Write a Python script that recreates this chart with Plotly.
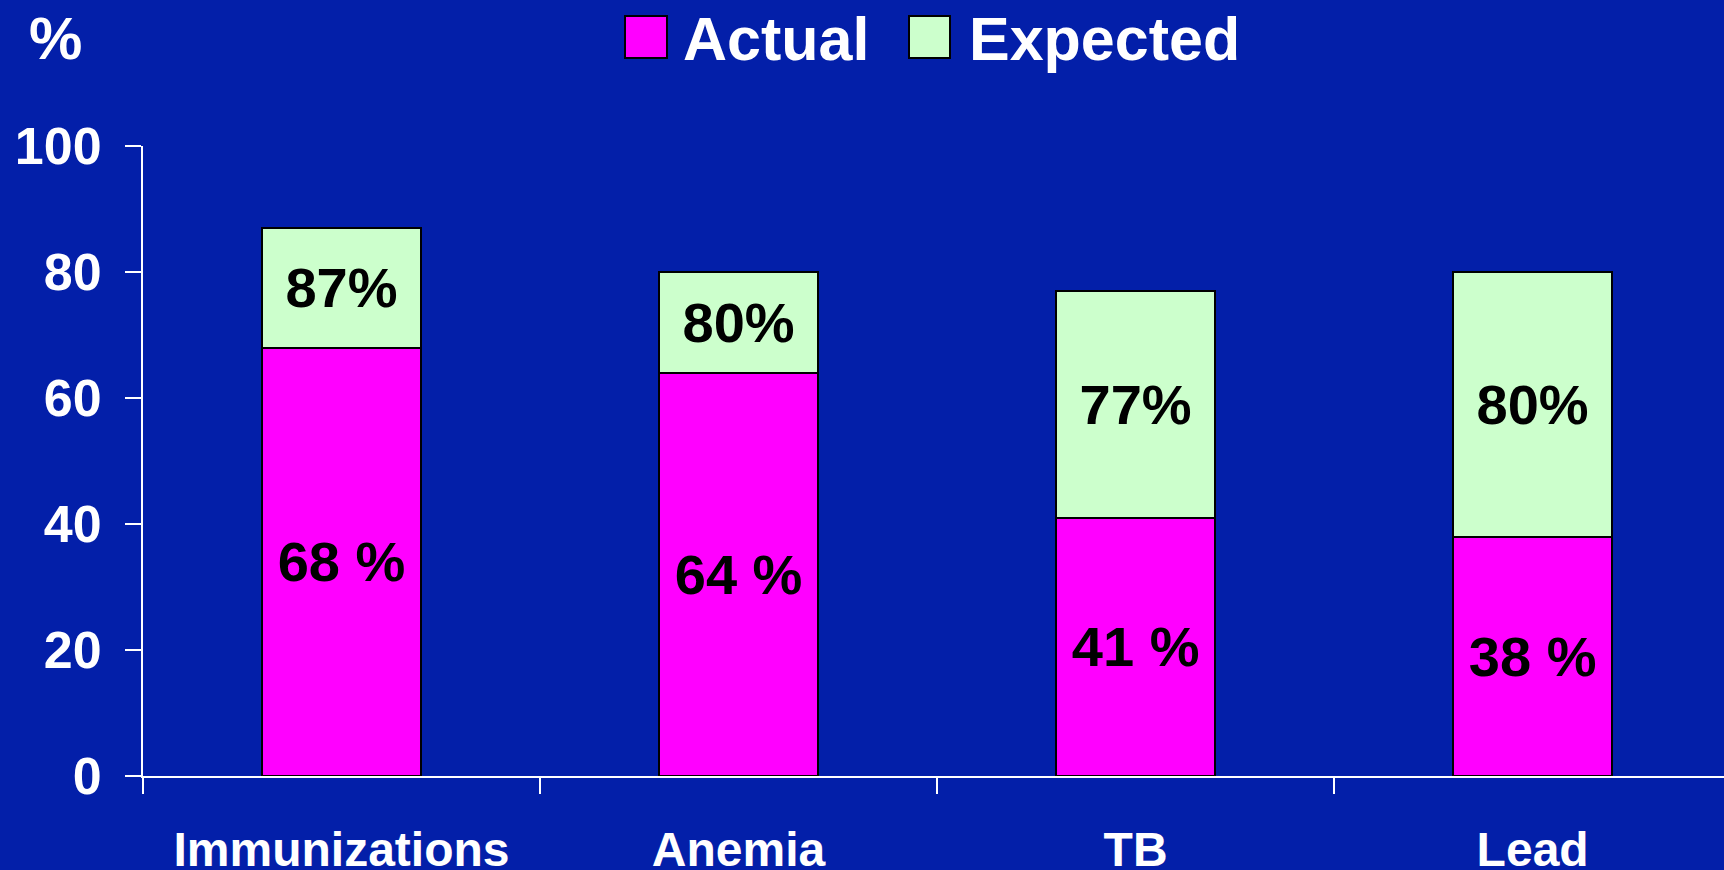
import plotly.graph_objects as go

# ---- data ----
categories = ["Immunizations", "Anemia", "TB", "Lead"]
actual = [68, 64, 41, 38]
expected = [87, 80, 77, 80]
actual_labels = ["68 %", "64 %", "41 %", "38 %"]
expected_labels = ["87%", "80%", "77%", "80%"]
y_ticks = [0, 20, 40, 60, 80, 100]

# ---- style ----
BG = "#031FA9"
MAGENTA = "#FF00FF"
GREEN = "#CCFFCC"
FONT = "Liberation Sans, Arial, Helvetica, sans-serif"
W, H = 1724, 870
L, R, T, B = 143, 0, 146, 94
PW, PH = W - L - R, H - T - B


def px(x):
    return (x - L) / PW


def py(y):
    return (H - B - y) / PH


gap = [e - a for e, a in zip(expected, actual)]

fig = go.Figure()
fig.add_bar(
    x=categories, y=actual, name="Actual", width=0.4,
    marker=dict(color=MAGENTA, line=dict(color="black", width=2)),
    text=actual_labels, textposition="inside", insidetextanchor="middle",
    constraintext="none", textangle=0,
    textfont=dict(family=FONT, size=56, color="black", weight="bold"),
    showlegend=False,
)
fig.add_bar(
    x=categories, y=gap, name="Expected", width=0.4,
    marker=dict(color=GREEN, line=dict(color="black", width=2)),
    text=expected_labels, textposition="inside", insidetextanchor="middle",
    constraintext="none", textangle=0,
    textfont=dict(family=FONT, size=56, color="black", weight="bold"),
    showlegend=False,
)

# legend drawn manually (large swatches)
shapes = [
    dict(type="rect", xref="paper", yref="paper",
         x0=px(625), x1=px(667), y0=py(58), y1=py(16),
         fillcolor=MAGENTA, line=dict(color="black", width=2)),
    dict(type="rect", xref="paper", yref="paper",
         x0=px(909), x1=px(950), y0=py(58), y1=py(16),
         fillcolor=GREEN, line=dict(color="black", width=2)),
]
annotations = [
    dict(text="Actual", xref="paper", yref="paper", x=px(681), y=py(39),
         xanchor="left", yanchor="middle", showarrow=False,
         font=dict(family=FONT, size=61, color="white", weight="bold")),
    dict(text="Expected", xref="paper", yref="paper", x=px(967), y=py(39),
         xanchor="left", yanchor="middle", showarrow=False,
         font=dict(family=FONT, size=61, color="white", weight="bold")),
    dict(text="%", xref="paper", yref="paper", x=px(55), y=py(39),
         xanchor="center", yanchor="middle", showarrow=False,
         font=dict(family=FONT, size=60, color="white", weight="bold")),
]

fig.update_layout(
    width=W, height=H,
    barmode="stack",
    paper_bgcolor=BG, plot_bgcolor=BG,
    margin=dict(l=L, r=R, t=T, b=B, pad=0),
    shapes=shapes, annotations=annotations,
    font=dict(family=FONT, color="white"),
    xaxis=dict(
        range=[-0.5, 3.482], showgrid=False, zeroline=False, automargin=False,
        showline=True, linecolor="white", linewidth=2,
        ticks="outside", tickson="boundaries", ticklen=16, tickwidth=2,
        tickcolor="white", ticklabelstandoff=30,
        tickfont=dict(family=FONT, size=48, color="white", weight="bold"),
    ),
    yaxis=dict(
        range=[0, 100], tickvals=y_ticks, showgrid=False, zeroline=False,
        automargin=False,
        showline=True, linecolor="white", linewidth=2,
        ticks="outside", ticklen=16, tickwidth=2, tickcolor="white",
        ticklabelstandoff=13,
        tickfont=dict(family=FONT, size=52, color="white", weight="bold"),
    ),
)

fig.write_html(
    "out.html",
    config={"displayModeBar": False},
    post_script="document.body.style.margin='0';document.body.style.overflow='hidden';",
)
